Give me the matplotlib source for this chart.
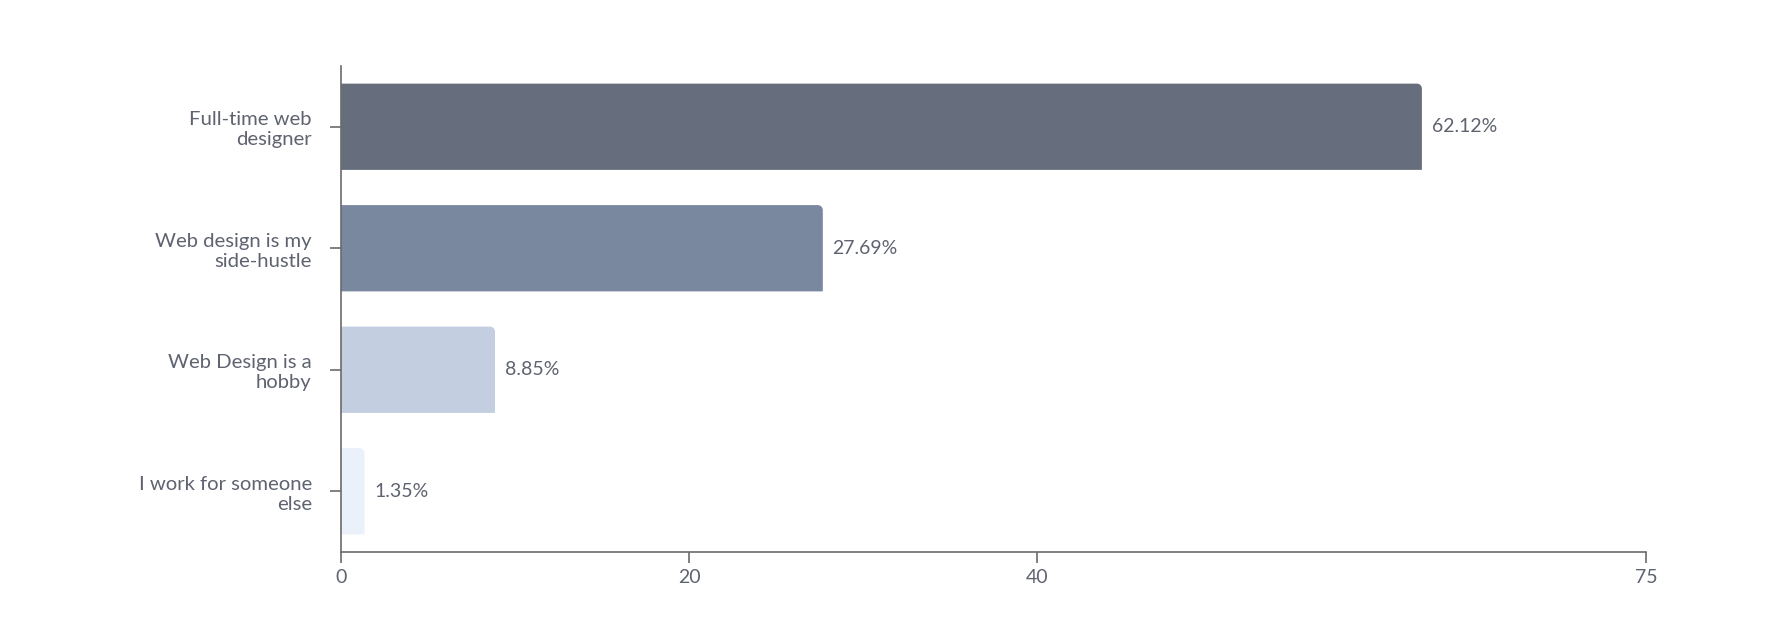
import numpy as np
import matplotlib.pyplot as plt
from matplotlib.path import Path
from matplotlib.patches import PathPatch

categories = ["Full-time web\ndesigner", "Web design is my\nside-hustle",
              "Web Design is a\nhobby", "I work for someone\nelse"]
values = [62.12, 27.69, 8.85, 1.35]
colors = ["#666d7c", "#79889e", "#c3cee0", "#eaf1fb"]
x_ticks = [0, 20, 40, 75]

text_color = "#5f6370"
axis_color = "#6b6b6b"

plt.rcParams['font.family'] = ['Lato', 'DejaVu Sans']

fig = plt.figure(figsize=(17.76, 6.42), dpi=100)
ax = fig.add_axes([341 / 1776, 1 - 552 / 642, (1646 - 341) / 1776, (552 - 66) / 642])

y = np.arange(len(categories))
bars = ax.barh(y, values, height=0.71, color=colors)
ax.set_xlim(0, 75)
ax.set_ylim(len(categories) - 0.5, -0.5)


def rounded_top_right(x0, y0, x1, y1, rx, ry):
    # bar with only the top-right corner rounded (y axis inverted, so y0 is top)
    k = 0.55
    verts = [(x0, y1), (x0, y0), (x1 - rx, y0),
             (x1 - rx + k * rx, y0), (x1, y0 + ry - k * ry), (x1, y0 + ry),
             (x1, y1), (x0, y1)]
    codes = [Path.MOVETO, Path.LINETO, Path.LINETO,
             Path.CURVE4, Path.CURVE4, Path.CURVE4,
             Path.LINETO, Path.CLOSEPOLY]
    return Path(verts, codes)


# corner radius in pixels -> data units
px_x = (1646 - 341) / 75
px_y = (552 - 66) / len(categories)
r = 5
for b, c in zip(bars, colors):
    x0, y0 = b.get_x(), b.get_y()
    x1, y1 = x0 + b.get_width(), y0 + b.get_height()
    b.set_visible(False)
    ax.add_patch(PathPatch(rounded_top_right(x0, y0, x1, y1, r / px_x, r / px_y),
                           facecolor=c, edgecolor="none", zorder=2))

for yi, v in zip(y, values):
    ax.annotate(f"{v:.2f}%", (v, yi), xytext=(7, 0), textcoords="offset points",
                va="center", ha="left", fontsize=14, color=text_color)

ax.set_yticks(y)
ax.set_yticklabels(categories, fontsize=14.6, color=text_color, linespacing=1.2)
ax.set_xticks(x_ticks)
ax.set_xticklabels([str(t) for t in x_ticks], fontsize=14, color=text_color)
ax.tick_params(axis="y", length=8, width=1.2, color=axis_color, pad=13)
ax.tick_params(axis="x", length=8, width=1.2, color=axis_color, pad=4)

for s in ["top", "right"]:
    ax.spines[s].set_visible(False)
for s in ["left", "bottom"]:
    ax.spines[s].set_color(axis_color)
    ax.spines[s].set_linewidth(1.2)

fig.savefig("out.png", dpi=100, facecolor="white")
